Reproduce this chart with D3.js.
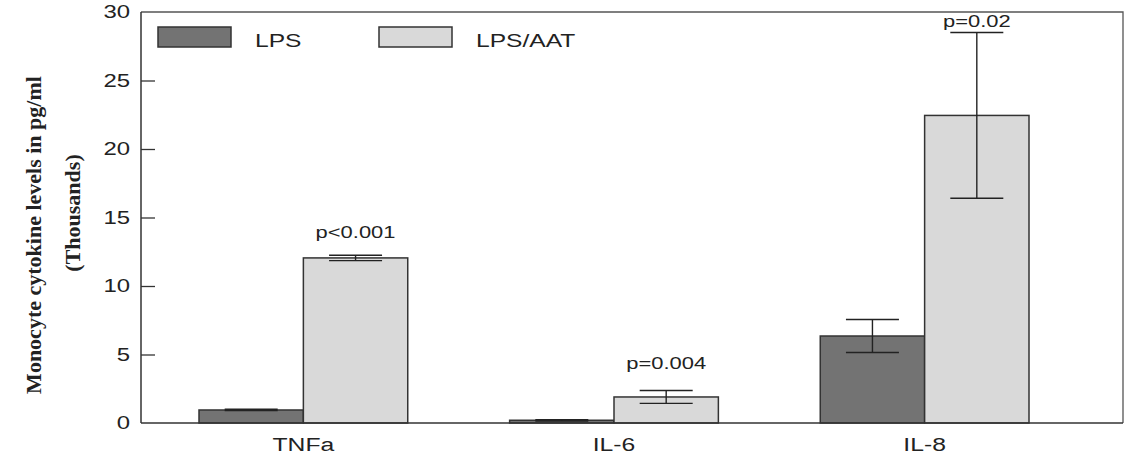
<!DOCTYPE html>
<html>
<head>
<meta charset="utf-8">
<title>Monocyte cytokine levels</title>
<script src="https://d3js.org/d3.v7.min.js"></script>
<style>
  body { margin: 0; background: #fff; }
  svg { display: block; }
</style>
</head>
<body>
<svg id="chart"></svg>
<script>
// data (thousands of pg/ml)
var categories = ["TNFa", "IL-6", "IL-8"];
var seriesNames = ["LPS", "LPS/AAT"];
var lpsMean = [0.95, 0.2, 6.35];
var lpsErr = [0.05, 0.05, 1.2];
var aatMean = [12.05, 1.9, 22.45];
var aatErr = [0.2, 0.47, 6.05];
var pLabels = ["p<0.001", "p=0.004", "p=0.02"];
var pLabelAt = [13.5, 3.94, 28.9];
var yTicks = [0, 5, 10, 15, 20, 25, 30];

var W = 1132, H = 458;
var frame = {left: 141, right: 1123, top: 12, bottom: 423};
var colors = ["#737373", "#d9d9d9"];
var sansFont = "'Liberation Sans', Arial, sans-serif";
var K = 1.33; // the original's text is stretched horizontally

// widen a text selection horizontally, keeping its anchor point
function stretch(sel) {
  sel.each(function() {
    var t = d3.select(this);
    var x = +t.attr("x") || 0;
    t.attr("x", x / K).attr("transform", "scale(" + K + ",1)");
  });
}

var svg = d3.select("#chart").attr("width", W).attr("height", H);

var y = d3.scaleLinear().domain([0, 30]).range([frame.bottom, frame.top]);

var x0 = d3.scaleBand()
  .domain(categories)
  .range([199, 1029])
  .paddingInner(0.328);

var x1 = d3.scaleBand()
  .domain(seriesNames)
  .range([0, x0.bandwidth()]);

var rows = categories.map(function(c, i) {
  return {cat: c, vals: [
    {s: "LPS", mean: lpsMean[i], err: lpsErr[i]},
    {s: "LPS/AAT", mean: aatMean[i], err: aatErr[i]}
  ]};
});

// frame: top + right borders
svg.append("path")
  .attr("d", "M" + frame.left + "," + frame.top + "H" + frame.right + "V" + frame.bottom)
  .attr("fill", "none").attr("stroke", "#555").attr("stroke-width", 1.3);

// bars
var groups = svg.selectAll("g.grp").data(rows).enter().append("g")
  .attr("class", "grp")
  .attr("transform", function(d) { return "translate(" + x0(d.cat) + ",0)"; });

groups.selectAll("rect").data(function(d) { return d.vals; }).enter().append("rect")
  .attr("x", function(d) { return x1(d.s); })
  .attr("y", function(d) { return y(d.mean); })
  .attr("width", x1.bandwidth())
  .attr("height", function(d) { return y(0) - y(d.mean); })
  .attr("fill", function(d, i) { return colors[i]; })
  .attr("stroke", "#333").attr("stroke-width", 1.5);

// error bars
var capW = 53;
var cx = function(d) { return x1(d.s) + x1.bandwidth() / 2; };
var eb = groups.selectAll("g.err").data(function(d) { return d.vals; }).enter().append("g")
  .attr("class", "err")
  .attr("stroke", "#222").attr("stroke-width", 1.4);
eb.append("line")
  .attr("x1", cx).attr("x2", cx)
  .attr("y1", function(d) { return y(d.mean + d.err); })
  .attr("y2", function(d) { return y(d.mean - d.err); });
eb.append("line")
  .attr("x1", function(d) { return cx(d) - capW / 2; })
  .attr("x2", function(d) { return cx(d) + capW / 2; })
  .attr("y1", function(d) { return y(d.mean + d.err); })
  .attr("y2", function(d) { return y(d.mean + d.err); });
eb.append("line")
  .attr("x1", function(d) { return cx(d) - capW / 2; })
  .attr("x2", function(d) { return cx(d) + capW / 2; })
  .attr("y1", function(d) { return y(d.mean - d.err); })
  .attr("y2", function(d) { return y(d.mean - d.err); });

// p-value labels
groups.append("text")
  .attr("x", x1("LPS/AAT") + x1.bandwidth() / 2)
  .attr("y", function(d, i) { return y(pLabelAt[i]); })
  .attr("text-anchor", "middle")
  .style("font-family", sansFont)
  .style("font-size", "16.5px").attr("fill", "#222")
  .text(function(d, i) { return pLabels[i]; })
  .call(stretch);

// y axis (ticks inward)
var yAxis = svg.append("g")
  .attr("transform", "translate(" + frame.left + ",0)")
  .call(d3.axisRight(y).tickValues(yTicks).tickSize(14).tickFormat(d3.format("d")));
yAxis.select(".domain").remove();
yAxis.append("line").attr("x1", 0).attr("x2", 0)
  .attr("y1", frame.top).attr("y2", frame.bottom)
  .attr("stroke", "#333").attr("stroke-width", 1.5);
yAxis.selectAll(".tick line").attr("stroke", "#333").attr("stroke-width", 1.3)
  .attr("display", function(d) { return (d === 0 || d === 30) ? "none" : null; });
yAxis.selectAll(".tick text")
  .attr("x", -11).attr("text-anchor", "end").attr("fill", "#222")
  .style("font-family", sansFont)
  .style("font-size", "18px")
  .call(stretch);

// x axis
var xAxis = svg.append("g")
  .attr("transform", "translate(0," + frame.bottom + ")")
  .call(d3.axisBottom(x0).tickSize(0).tickPadding(15));
xAxis.select(".domain").remove();
xAxis.append("line").attr("x1", frame.left).attr("x2", frame.right)
  .attr("stroke", "#333").attr("stroke-width", 1.5);
xAxis.selectAll(".tick text").attr("fill", "#222")
  .style("font-family", sansFont)
  .style("font-size", "19px")
  .attr("transform", "scale(1.3,1)");

// y title
svg.append("text")
  .attr("transform", "translate(41,235)rotate(-90)")
  .attr("text-anchor", "middle")
  .style("font-family", "'Liberation Serif', 'Times New Roman', serif")
  .style("font-weight", "bold").style("font-size", "22px").attr("fill", "#222")
  .text("Monocyte cytokine levels in pg/ml");
svg.append("text")
  .attr("transform", "translate(80,213)rotate(-90)")
  .attr("text-anchor", "middle")
  .style("font-family", "'Liberation Serif', 'Times New Roman', serif")
  .style("font-weight", "bold").style("font-size", "22px").attr("fill", "#222")
  .text("(Thousands)");

// legend
var legendX = [158, 379];
var leg = svg.selectAll("g.leg").data(seriesNames).enter().append("g")
  .attr("class", "leg")
  .attr("transform", function(d, i) { return "translate(" + legendX[i] + ",27)"; });
leg.append("rect").attr("width", 73).attr("height", 20)
  .attr("fill", function(d, i) { return colors[i]; })
  .attr("stroke", "#333").attr("stroke-width", 1.5);
leg.append("text").attr("x", 97).attr("y", 20)
  .style("font-family", sansFont)
  .style("font-size", "18.5px").attr("fill", "#222")
  .text(function(d) { return d; })
  .call(stretch);
</script>
</body>
</html>
